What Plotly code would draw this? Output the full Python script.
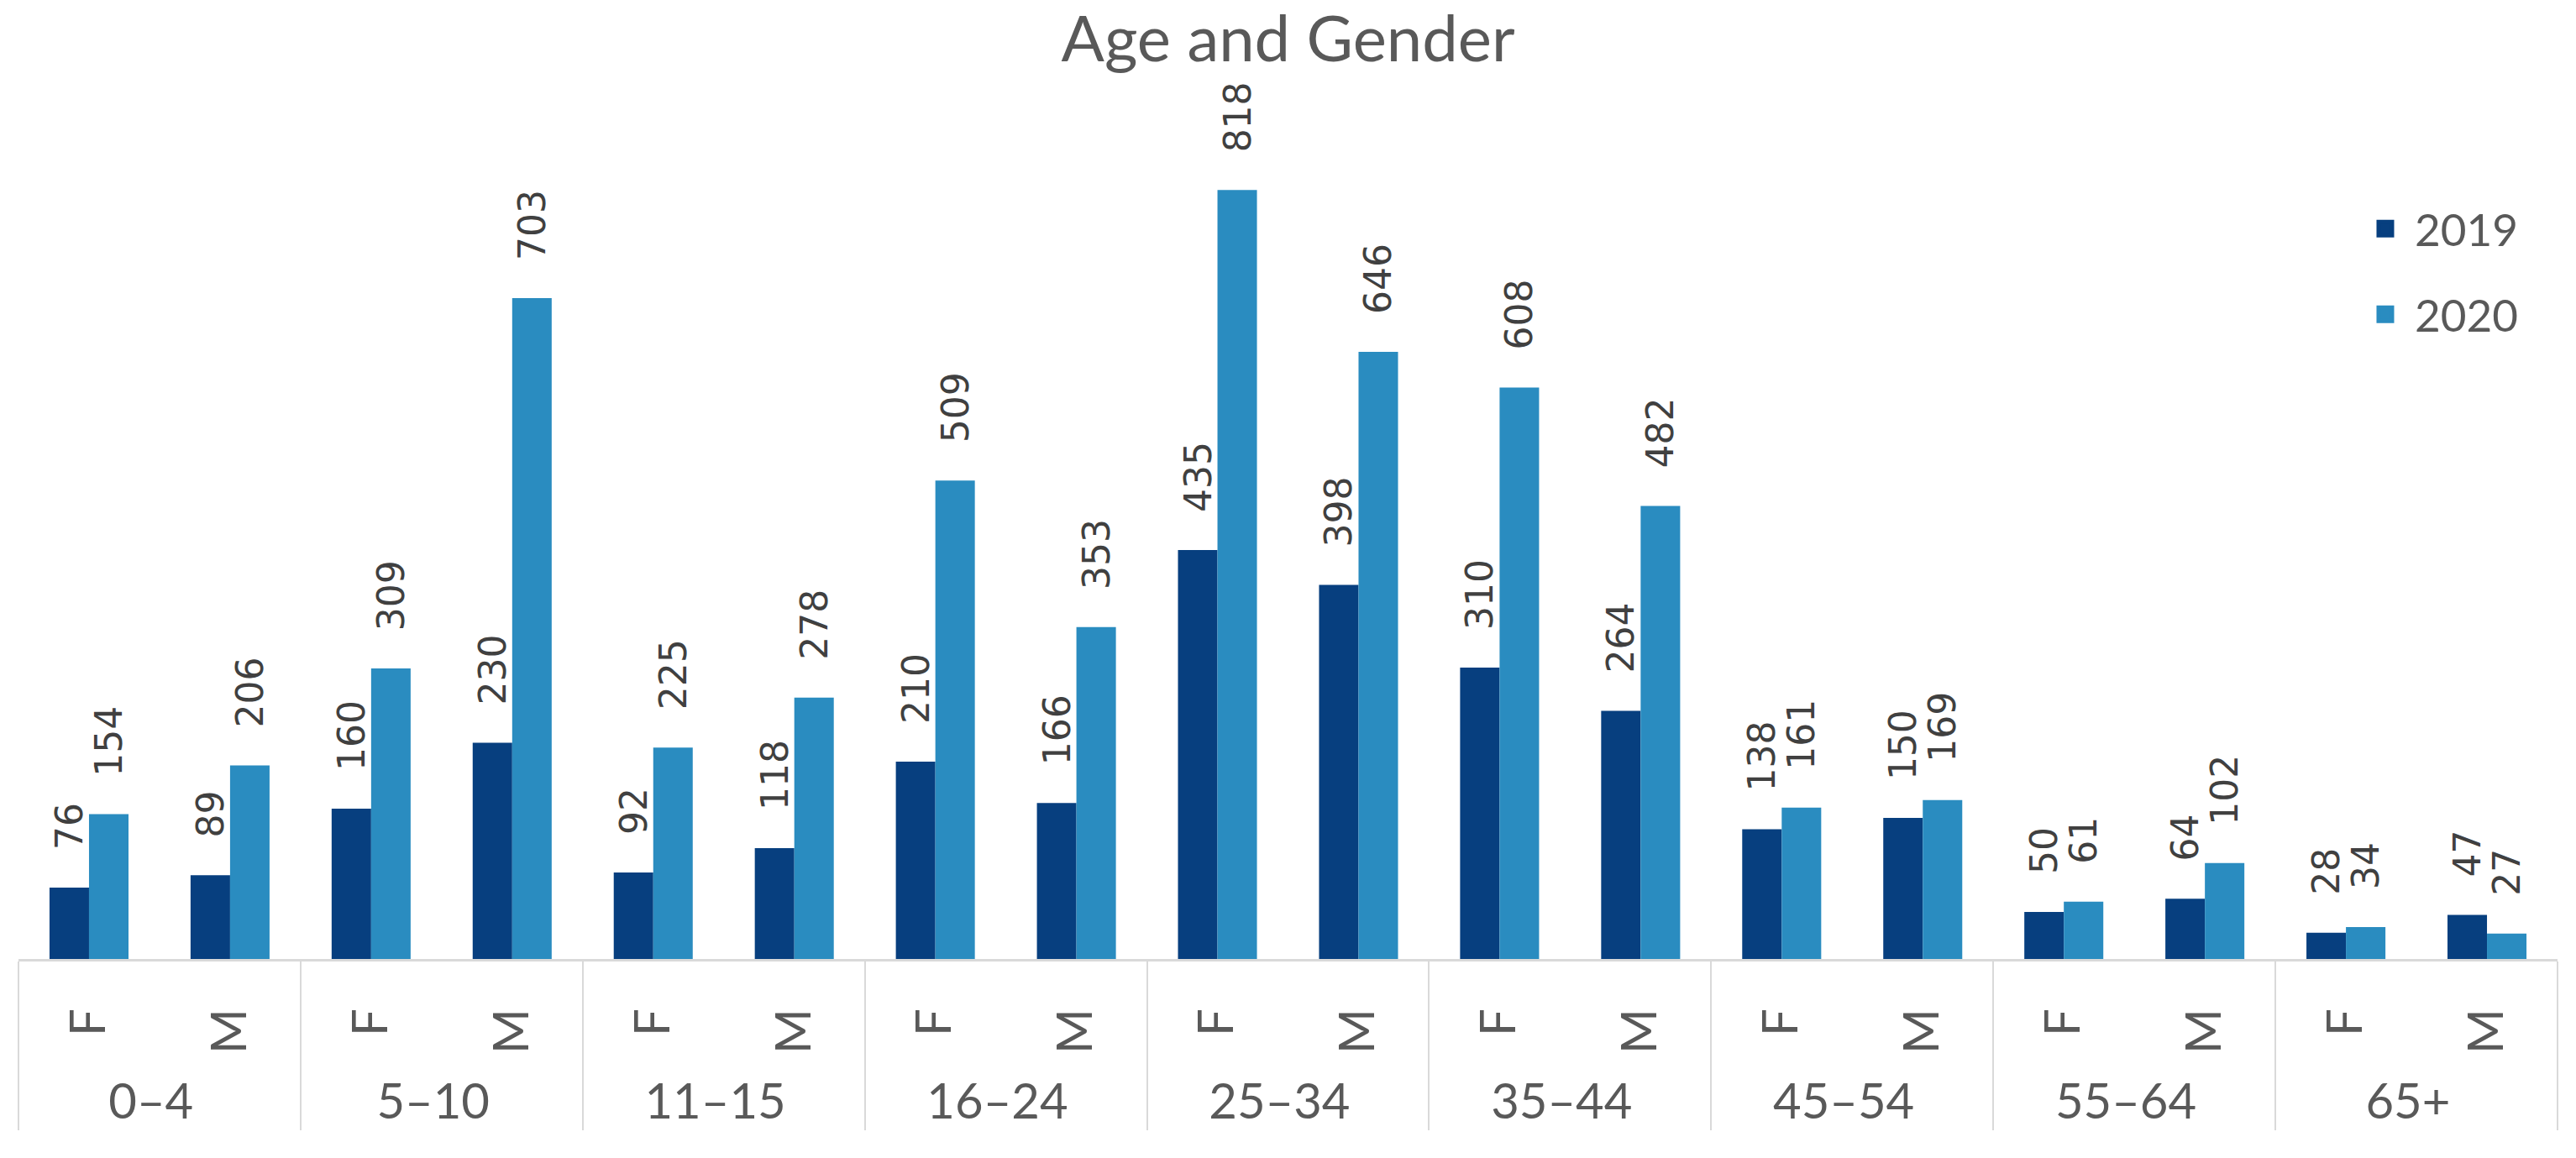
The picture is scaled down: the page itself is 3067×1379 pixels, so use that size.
import plotly.graph_objects as go

age_groups = ["0–4", "5–10", "11–15", "16–24", "25–34", "35–44", "45–54", "55–64", "65+"]
genders = ["F", "M"]
values_2019 = [76, 89, 160, 230, 92, 118, 210, 166, 435, 398, 310, 264, 138, 150, 50, 64, 28, 47]
values_2020 = [154, 206, 309, 703, 225, 278, 509, 353, 818, 646, 608, 482, 161, 169, 61, 102, 34, 27]
series_names = ["2019", "2020"]
series_colors = ["#073F7F", "#2A8CC0"]

# a leading hair space only pads the rotated sub-labels (it sits below the visible letter)
pad = "\u200a"
x_groups = [g for g in age_groups for _ in genders]
x_subs = [pad + s for _ in age_groups for s in genders]
x_multi = [x_groups, x_subs]

fig = go.Figure()
for name, vals, color in zip(series_names, [values_2019, values_2020], series_colors):
    fig.add_trace(go.Bar(
        x=x_multi, y=vals, name=name,
        marker=dict(color=color, line=dict(width=0)),
        text=vals,
        texttemplate="\u00a0\u00a0\u00a0%{y}",
        textposition="outside",
        textangle=-90,
        constraintext="none",
        cliponaxis=False,
        textfont=dict(family="DejaVu Sans", size=44, color="#404040"),
        showlegend=False,
    ))

# legend entries (bigger swatches than bar legend symbols)
for name, color in zip(series_names, series_colors):
    fig.add_trace(go.Scatter(
        x=[[age_groups[0]], [x_subs[0]]], y=[None],
        mode="markers", name=name, legendgroup=name,
        marker=dict(symbol="square", size=16, color=color, line=dict(color=color, width=5)),
        showlegend=True, hoverinfo="skip",
    ))

n_slots = len(x_groups)
fig.update_layout(
    width=3067, height=1379,
    margin=dict(l=14, r=30, t=112, b=245, autoexpand=False),
    paper_bgcolor="white", plot_bgcolor="white",
    barmode="group", bargap=0.44, bargroupgap=0,
    title=dict(text="Age and Gender", x=0.4974, xanchor="center", y=0.972, yanchor="middle",
               font=dict(family="Lato", size=76, color="#595959")),
    legend=dict(x=0.9206, xanchor="left", y=0.891, yanchor="top",
                font=dict(family="Lato", size=53, color="#595959"),
                itemwidth=60,
                tracegroupgap=30, bgcolor="rgba(0,0,0,0)"),
    font=dict(family="Lato", color="#595959"),
)
fig.update_xaxes(
    type="multicategory", automargin=False,
    range=[-0.5, n_slots - 0.5], autorange=False,
    showline=True, linecolor="#D9D9D9", linewidth=3,
    showdividers=True, dividercolor="#D9D9D9", dividerwidth=2,
    ticks="", tickangle=-90, ticklabelstandoff=33,
    tickfont=dict(family="Lato", size=58, color="#595959"),
    showgrid=False, zeroline=False,
)
fig.update_yaxes(range=[0, 913], visible=False, automargin=False, showgrid=False, zeroline=False)

fig.write_html("out.html")
